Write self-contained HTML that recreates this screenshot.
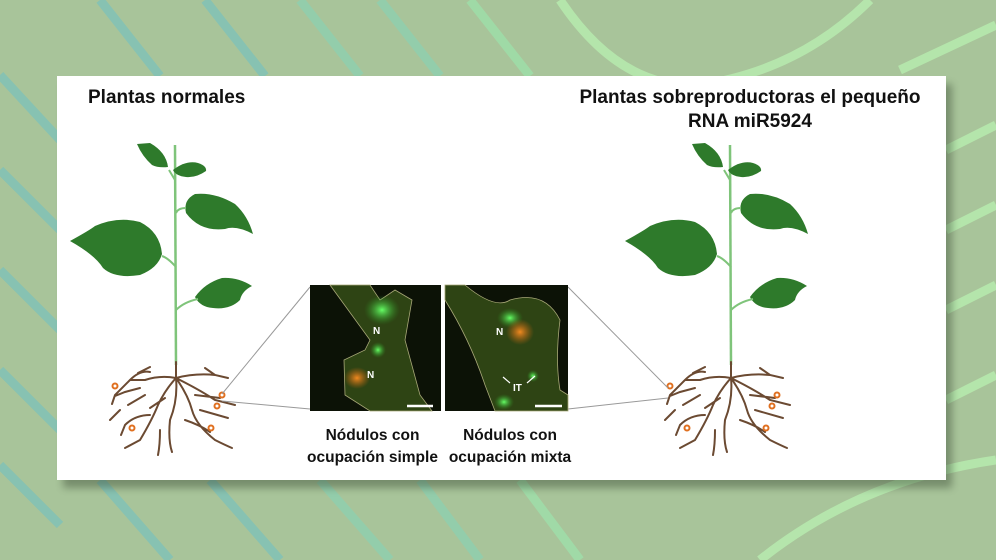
<!DOCTYPE html>
<html><head><meta charset="utf-8"><style>
html,body{margin:0;padding:0}
body{width:996px;height:560px;overflow:hidden;background:#a8c49a;position:relative;font-family:"Liberation Sans",sans-serif}
svg{position:absolute;left:0;top:0}
.t{position:absolute;font-weight:bold;color:#111;text-align:center}
</style></head><body>
<svg width="996" height="560" viewBox="0 0 996 560">
<defs>
<radialGradient id="g1" cx="50%" cy="50%" r="50%"><stop offset="0" stop-color="#6f6"/><stop offset="1" stop-color="#2a8a20" stop-opacity="0"/></radialGradient>
<radialGradient id="o1" cx="50%" cy="50%" r="50%"><stop offset="0" stop-color="#f08a20"/><stop offset="1" stop-color="#c06010" stop-opacity="0"/></radialGradient>
<g id="plant">
<line x1="175" y1="145" x2="176" y2="365" stroke="#7fc47a" stroke-width="2.5"/>
<path d="M137,144 L150,143 Q166,152 168,167 Q158,168 152,165 Q142,156 137,144Z" fill="#2e7a2b"/>
<path d="M173,170 Q186,160 198,163 Q207,166 206,171 Q196,178 186,177 Q176,176 173,170Z" fill="#2e7a2b"/>
<path d="M186,213 Q183,200 195,194 Q215,192 235,204 Q248,216 253,234 Q236,225 225,229 Q200,232 186,213Z" fill="#2e7a2b"/>
<path d="M70,241 Q90,230 95,226 Q118,216 140,222 Q160,232 162,254 Q158,268 140,275 Q115,279 103,268 Q95,255 70,241Z" fill="#2e7a2b"/>
<path d="M195,297 Q205,283 222,278 Q238,277 252,286 Q242,291 240,300 Q230,310 213,308 Q200,307 195,297Z" fill="#2e7a2b"/>
<path d="M175,180 L169,170 M176,213 Q178,208 186,208 M176,267 Q168,258 162,256 M176,310 Q184,302 198,299" stroke="#7fc47a" stroke-width="2" fill="none"/>
<g stroke="#6b4a32" stroke-width="2" fill="none" stroke-linecap="round">
<path d="M176,362 L176,378 M176,378 Q160,375 145,380 L130,380 M176,378 Q195,373 215,375 M130,380 L115,395 L112,404 M176,378 Q165,390 158,405 Q152,420 140,440 L125,448 M176,378 Q178,400 170,420 Q168,440 172,452 M176,378 Q188,395 192,410 Q196,425 215,440 Q225,445 232,448 M176,378 Q200,390 215,400 L235,405 M140,388 L125,392 L115,396 M150,415 Q135,415 125,425 L121,435 M195,395 L220,398 M185,420 Q200,425 210,432 M160,430 Q160,445 158,455 M138,373 L150,367 M205,368 L215,375 L228,378 M130,380 Q140,370 150,372 M120,410 L110,420 M200,410 L228,418 M145,395 L128,405 M165,398 L150,408"/>
</g>
<g fill="none" stroke="#e07020" stroke-width="2">
<circle cx="115" cy="386" r="2.5"/><circle cx="222" cy="395" r="2.5"/><circle cx="217" cy="406" r="2.5"/><circle cx="132" cy="428" r="2.5"/><circle cx="211" cy="428" r="2.5"/>
</g>
</g>
</defs>
<g stroke-width="9" fill="none" opacity="0.8">
<path d="M0,75 L60,140" stroke="#7fc2b8"/>
<path d="M0,170 L60,230" stroke="#7fc2b8"/>
<path d="M0,270 L60,330" stroke="#7fc2b8"/>
<path d="M0,370 L60,430" stroke="#7fc2b8"/>
<path d="M0,465 L60,525" stroke="#7fc2b8"/>
<path d="M100,0 L160,76" stroke="#7fc2b8"/>
<path d="M205,0 L265,76" stroke="#7fc2b8"/>
<path d="M300,0 L360,76" stroke="#8ed0b0"/>
<path d="M380,0 L440,76" stroke="#8ed0b0"/>
<path d="M470,0 L530,76" stroke="#9ee0aa"/>
<path d="M560,0 Q620,90 700,85 Q800,70 870,0" stroke="#b8eeb0"/>
<path d="M900,70 L996,25" stroke="#b8eeb0"/>
<path d="M946,150 L996,125" stroke="#b8eeb0"/>
<path d="M946,230 L996,205" stroke="#b8eeb0"/>
<path d="M946,310 L996,285" stroke="#b8eeb0"/>
<path d="M946,400 L996,375" stroke="#b8eeb0"/>
<path d="M100,480 L170,560" stroke="#7fc2b8"/>
<path d="M210,480 L280,560" stroke="#7fc2b8"/>
<path d="M320,480 L390,560" stroke="#8ed0b0"/>
<path d="M420,480 L480,560" stroke="#8ed0b0"/>
<path d="M520,480 L580,560" stroke="#9ee0aa"/>
<path d="M760,560 Q860,480 996,460" stroke="#b8eeb0"/>
</g>
<rect x="63" y="84" width="889" height="404" fill="#3a4a34" opacity="0.45" filter="blur(4px)"/>
<rect x="57" y="76" width="889" height="404" fill="#fff"/>
<use href="#plant"/>
<use href="#plant" x="555"/>
<g stroke="#999" stroke-width="1">
<line x1="222" y1="394" x2="310" y2="287"/><line x1="222" y1="401" x2="310" y2="409"/>
<line x1="568" y1="287" x2="668" y2="388"/><line x1="568" y1="409" x2="668" y2="398"/>
</g>
<rect x="310" y="285" width="131" height="126" fill="#0c1206"/>
<path d="M330,285 L370,285 L380,300 L395,290 L412,300 L405,340 L420,395 L432,411 L370,411 L345,395 L344,360 L365,350 L370,340 Z" fill="#2e4414" stroke="#a8a878" stroke-width="0.8"/>
<ellipse cx="382" cy="310" rx="18" ry="15" fill="url(#g1)"/>
<ellipse cx="378" cy="350" rx="8" ry="8" fill="url(#g1)"/>
<ellipse cx="357" cy="378" rx="13" ry="11" fill="url(#o1)"/>
<rect x="445" y="285" width="123" height="126" fill="#0c1206"/>
<path d="M445,285 L465,285 Q495,310 510,300 Q545,290 560,320 Q555,360 560,390 L568,395 L568,411 L495,411 L485,385 Q470,340 445,300Z" fill="#2e4414" stroke="#a8a878" stroke-width="0.8"/>
<ellipse cx="510" cy="318" rx="13" ry="10" fill="url(#g1)"/>
<ellipse cx="520" cy="332" rx="14" ry="13" fill="url(#o1)"/>
<ellipse cx="504" cy="402" rx="10" ry="8" fill="url(#g1)"/>
<ellipse cx="533" cy="376" rx="6" ry="6" fill="url(#g1)"/>
<g fill="#fff" font-family="Liberation Sans" font-weight="bold" font-size="10">
<text x="373" y="334">N</text><text x="367" y="378">N</text><text x="496" y="335">N</text><text x="513" y="391">IT</text>
</g>
<g stroke="#fff" stroke-width="2.5"><line x1="407" y1="406" x2="433" y2="406"/><line x1="535" y1="406" x2="562" y2="406"/></g>
<g stroke="#fff" stroke-width="1.2"><line x1="510" y1="383" x2="503" y2="377"/><line x1="527" y1="383" x2="535" y2="376"/></g>
</svg>
<div class="t" style="left:88px;top:86px;font-size:19px;line-height:24px">Plantas normales</div>
<div class="t" style="left:550px;top:86px;width:400px;font-size:19px;line-height:24px">Plantas sobreproductoras el pequeño<br>RNA miR5924</div>
<div class="t" style="left:300px;top:425px;width:145px;font-size:15.5px;line-height:22px">Nódulos con<br>ocupación simple</div>
<div class="t" style="left:445px;top:425px;width:130px;font-size:15.5px;line-height:22px">Nódulos con<br>ocupación mixta</div>
</body></html>
